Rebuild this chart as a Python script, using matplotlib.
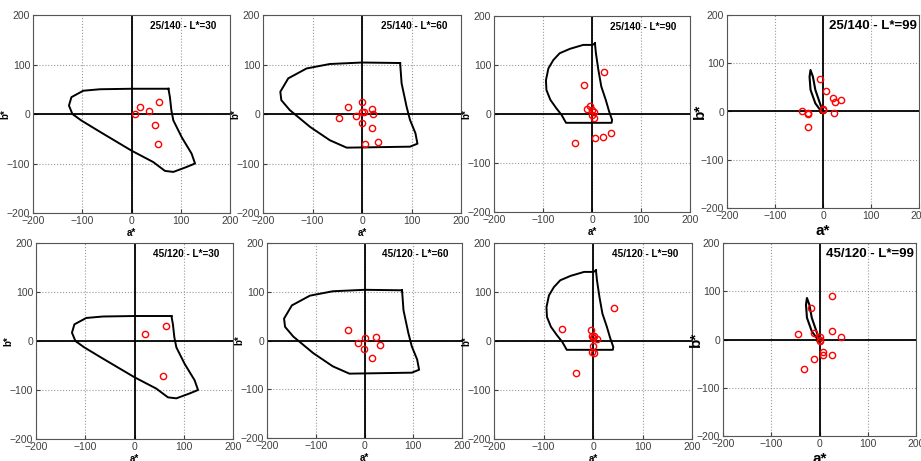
import matplotlib.pyplot as plt

plt.rcParams['font.family'] = ['Liberation Sans', 'DejaVu Sans']

# gamut boundaries (a*, b*) per lightness level
gamut_a = {
    30: [75, 0, -64, -98, -122, -127, -120, -102, -64, 0, 44, 68, 85, 112, 129, 122, 102, 85, 81, 78, 75],
    60: [77, 0, -65, -112, -149, -165, -163, -146, -105, -65, -31, 97, 112, 108, 97, 90, 80, 77],
    90: [6, 1, -18, -45, -66, -79, -89, -94, -93, -85, -73, -62, -53, 40, 41, 35, 28, 19, 13, 8, 6],
    99: [-2, -16, -26, -28, -26, -21, -16, -5, 1, 5, -5, -2],
}
gamut_b = {
    30: [51, 51, 50, 47, 34, 17, 0, -13, -36, -74, -97, -115, -117, -107, -100, -80, -47, -13, 7, 34, 51],
    60: [103, 104, 101, 92, 72, 45, 28, 8, -26, -53, -68, -66, -60, -39, -12, 15, 62, 103],
    90: [144, 141, 141, 133, 124, 110, 93, 69, 49, 29, 12, -2, -18, -18, -12, 5, 29, 56, 90, 124, 144],
    99: [-2, 17, 45, 72, 86, 72, 45, 13, 0, -2, -2, -2],
}

titles = ["25/140 - L*=30", "25/140 - L*=60", "25/140 - L*=90", "25/140 - L*=99",
          "45/120 - L*=30", "45/120 - L*=60", "45/120 - L*=90", "45/120 - L*=99"]
levels = [30, 60, 90, 99, 30, 60, 90, 99]

pts_a = [
    [7, 18, 35, 55, 48, 54],
    [-29, -46, -12, -1, 1, 5, 20, 23, 1, 20, 7, 32],
    [-17, 25, -4, -11, -1, 4, 0, 5, 6, 23, 38, -34],
    [-7, 6, 20, 24, 37, 1, 0, 22, -44, -32, -32, -31],
    [21, 64, 58],
    [-33, -13, 2, 24, 31, -2, 16],
    [-63, 42, -4, -3, -1, 3, 8, -1, -3, 2, -34],
    [25, -17, -44, -12, 26, 44, 1, 2, 0, 8, 8, 25, -11, -33],
]
pts_b = [
    [0, 14, 7, 24, -22, -61],
    [14, -9, -4, 24, 5, 5, 11, 1, -19, -29, -61, -56],
    [59, 86, 16, 11, 9, 4, -3, -9, -48, -46, -38, -60],
    [67, 42, 29, 19, 24, 6, 3, -4, 0, -4, -6, -33],
    [15, 31, -72],
    [22, -6, 6, 7, -10, -18, -35],
    [25, 68, 23, 10, 7, 10, 4, -10, -22, -25, -65],
    [90, 65, 12, 13, 18, 5, 5, -4, 0, -26, -33, -33, -41, -62],
]

# axes boxes in pixels: left, top, right, bottom
boxes = [(33, 15, 230, 213), (263, 15, 461, 213), (494, 16, 690, 212), (727, 15, 919, 208),
         (36, 243, 233, 439), (267, 243, 462, 438), (494, 243, 692, 439), (723, 243, 916, 436)]

W, H = 921, 461
fig = plt.figure(figsize=(W / 100, H / 100), dpi=100)

for i in range(8):
    l, t, r, b = boxes[i]
    ax = fig.add_axes([l / W, 1 - b / H, (r - l) / W, (b - t) / H])
    big = levels[i] == 99
    ax.set_xlim(-200, 200)
    ax.set_ylim(-200, 200)
    ax.set_xticks([-200, -100, 0, 100, 200])
    ax.set_yticks([-200, -100, 0, 100, 200])
    ax.grid(True, linestyle=':', color='#999999', linewidth=0.8)
    ax.tick_params(direction='in', length=3, labelsize=7.5, colors='#404040', pad=2)
    for s in ax.spines.values():
        s.set_color('#555555')
        s.set_linewidth(0.8)
    ax.axhline(0, color='black', linewidth=1.3)
    ax.axvline(0, color='black', linewidth=1.3)
    L = levels[i]
    ax.plot(gamut_a[L], gamut_b[L], color='black', linewidth=1.5 if big else 1.4)
    ax.plot(pts_a[i], pts_b[i], 'o', markerfacecolor='none', markeredgecolor='red',
            markersize=4.5, markeredgewidth=1.0)
    fs = 11 if big else 7
    ax.set_xlabel('a*', fontsize=fs, fontweight='bold')
    ax.set_ylabel('b*', fontsize=fs, fontweight='bold')
    w = r - l
    ax.yaxis.set_label_coords(-20.0 / w if big else -23.0 / w, 0.5)
    ax.xaxis.set_label_coords(0.5, -16.0 / (b - t) if big else -15.0 / (b - t))
    ax.text(0.99 if big else 0.93, 0.945, titles[i], transform=ax.transAxes,
            ha='right', va='center', fontsize=9.5 if big else 7.2, fontweight='bold')

fig.savefig('out.png', dpi=100)
